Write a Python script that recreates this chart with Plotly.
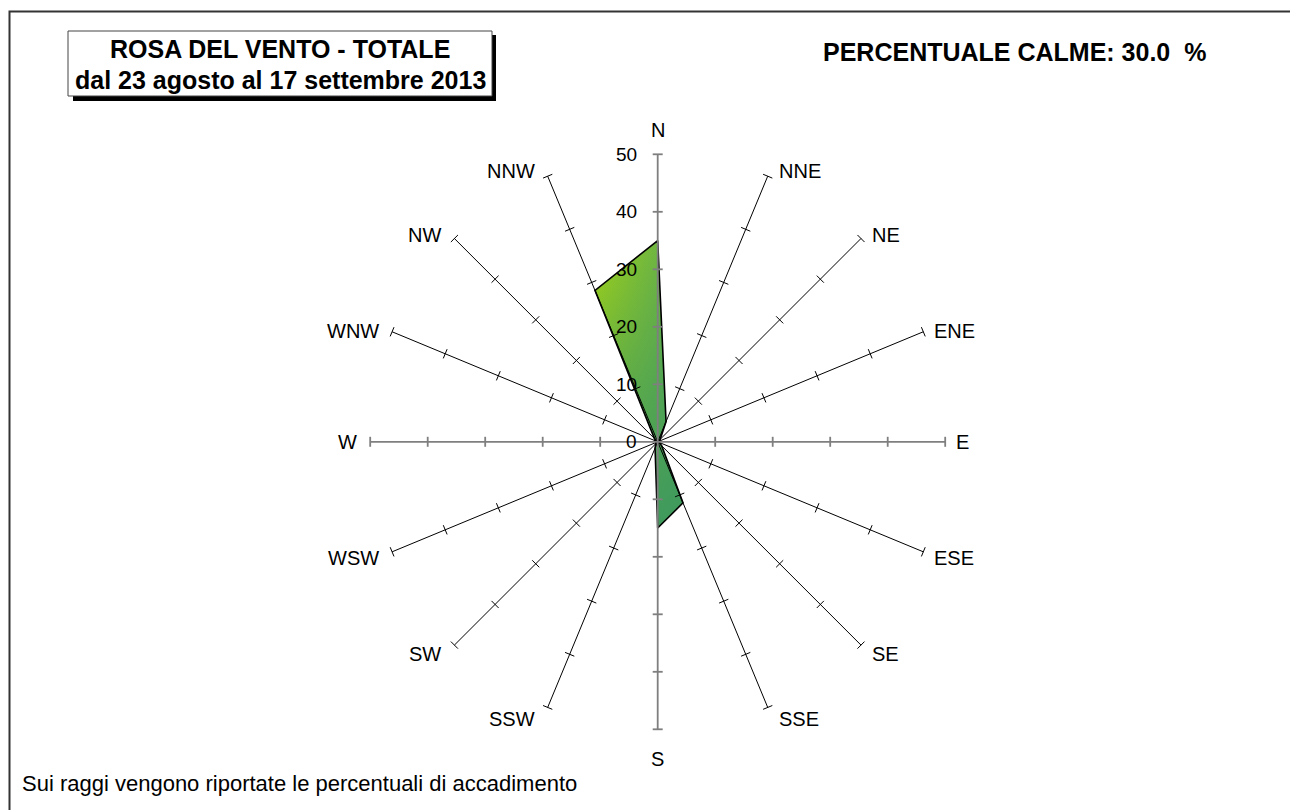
import math
import plotly.graph_objects as go

# ---------------- data ----------------
directions = ["N", "NNE", "NE", "ENE", "E", "ESE", "SE", "SSE",
              "S", "SSW", "SW", "WSW", "W", "WNW", "NW", "NNW"]
frequencies = [35.0, 3.8, 0.6, 0.2, 0.2, 0.3, 1.0, 11.5,
               15.0, 1.2, 0.4, 0.2, 0.2, 0.3, 0.8, 28.5]
radial_ticks = [10, 20, 30, 40, 50]
radial_tick_labels = ["0", "10", "20", "30", "40", "50"]
radial_max = 50
title_line1 = "ROSA DEL VENTO - TOTALE"
title_line2 = "dal 23 agosto al 17 settembre 2013"
calme_text = "PERCENTUALE CALME: 30.0  %"
note_text = "Sui raggi vengono riportate le percentuali di accadimento"

# ---------------- geometry helpers ----------------
OFF = 8  # default page body margin
W, H = 1298 - OFF, 810 - OFF
cx_px, cy_px = 657.7 - OFF, 441.8 - OFF
px_per_unit = 5.75
x_range = [-cx_px / px_per_unit, (W - cx_px) / px_per_unit]
y_range = [-(H - cy_px) / px_per_unit, cy_px / px_per_unit]


def PX(x):
    return (x - OFF) / W


def PY(y):
    return 1 - (y - OFF) / H


angles = [i * 2 * math.pi / len(directions) for i in range(len(directions))]


def pol(r, a):
    return r * math.sin(a), r * math.cos(a)


fig = go.Figure()

# filled rose polygon (two gradient layers -> diagonal yellow-green to green)
px_, py_ = [], []
for r, a in zip(frequencies + frequencies[:1], angles + angles[:1]):
    x, y = pol(r, a)
    px_.append(x)
    py_.append(y)
fig.add_trace(go.Scatter(
    x=px_, y=py_, mode="lines", fill="toself",
    fillgradient=dict(type="horizontal",
                      colorscale=[[0, "#a2d216"], [1, "#5cab52"]]),
    line=dict(color="rgba(0,0,0,0)", width=0), hoverinfo="skip", showlegend=False))
fig.add_trace(go.Scatter(
    x=px_, y=py_, mode="lines", fill="toself",
    fillgradient=dict(type="vertical",
                      colorscale=[[0, "rgba(60,152,94,0.95)"], [0.5, "rgba(60,152,94,0.55)"],
                                  [1, "rgba(60,152,94,0)"]]),
    line=dict(color="black", width=1.6), hoverinfo="skip", showlegend=False))

# spokes and ticks
tick_half = 5 / px_per_unit
for main in (False, True):
    xs, ys = [], []
    for i, a in enumerate(angles):
        is_main = (i % 4 == 0)
        if is_main != main:
            continue
        x0, y0 = pol(0, a)
        x1, y1 = pol(radial_max, a)
        xs += [x0, x1, None]
        ys += [y0, y1, None]
        for t in radial_ticks:
            tx, ty = pol(t, a)
            dx, dy = math.cos(a) * tick_half, -math.sin(a) * tick_half
            xs += [tx - dx, tx + dx, None]
            ys += [ty - dy, ty + dy, None]
    fig.add_trace(go.Scatter(
        x=xs, y=ys, mode="lines",
        line=dict(color="#7f7f7f" if main else "black", width=1.8 if main else 1),
        hoverinfo="skip", showlegend=False))

annotations = []
FAM = "Liberation Sans, Arial, sans-serif"
font_tick = dict(family=FAM, size=19, color="black")
font_lbl = dict(family=FAM, size=20, color="black")

# radial tick labels on N axis
for i, lab in enumerate(radial_tick_labels):
    annotations.append(dict(x=0, y=i * 10, xref="x", yref="y", text=lab, showarrow=False,
                            xanchor="right", yanchor="middle", xshift=-19, font=font_tick))

# direction labels
for name, a in zip(directions, angles):
    x, y = pol(radial_max, a)
    s, c = math.sin(a), math.cos(a)
    if abs(s) < 1e-6:
        xa, xs_ = "center", 0
        ys_ = 24 if c > 0 else -30
    else:
        xa = "left" if s > 0 else "right"
        xs_ = 9 if s > 0 else -11
        ys_ = 9 * c - 3 if abs(c) > 1e-6 else 0
    annotations.append(dict(x=x, y=y, xref="x", yref="y", text=name, showarrow=False,
                            xanchor=xa, yanchor="middle", xshift=xs_, yshift=ys_,
                            font=font_lbl))

# titles
font_b = dict(family=FAM, size=25, color="black")
annotations.append(dict(x=PX(280), y=PY(49), xref="paper", yref="paper",
                        text="<b>%s</b>" % title_line1, showarrow=False,
                        xanchor="center", yanchor="middle", font=font_b))
annotations.append(dict(x=PX(280), y=PY(80), xref="paper", yref="paper",
                        text="<b>%s</b>" % title_line2, showarrow=False,
                        xanchor="center", yanchor="middle", font=font_b))
annotations.append(dict(x=PX(1014), y=PY(52), xref="paper", yref="paper",
                        text="<b>%s</b>" % calme_text, showarrow=False,
                        xanchor="center", yanchor="middle", font=font_b))
annotations.append(dict(x=PX(20), y=PY(783), xref="paper", yref="paper",
                        text=note_text, showarrow=False,
                        xanchor="left", yanchor="middle",
                        font=dict(family=FAM, size=22, color="black")))

shapes = [
    # outer frame (only left/top visible in picture)
    dict(type="rect", xref="paper", yref="paper", x0=PX(9.5), x1=1.05, y0=-0.05, y1=PY(11.5),
         line=dict(color="#333333", width=2), layer="below"),
    # title box shadow
    dict(type="rect", xref="paper", yref="paper", x0=PX(73), x1=PX(496),
         y0=PY(101), y1=PY(35), fillcolor="black", line=dict(width=0), layer="below"),
    # title box
    dict(type="rect", xref="paper", yref="paper", x0=PX(68), x1=PX(492),
         y0=PY(96), y1=PY(31), fillcolor="white",
         line=dict(color="#444444", width=1), layer="below"),
]

fig.update_layout(
    width=W, height=H, margin=dict(l=0, r=0, t=0, b=0),
    paper_bgcolor="white", plot_bgcolor="rgba(0,0,0,0)",
    xaxis=dict(range=x_range, visible=False, fixedrange=True),
    yaxis=dict(range=y_range, visible=False, fixedrange=True),
    annotations=annotations, shapes=shapes, showlegend=False,
)

fig.write_html("out.html")
